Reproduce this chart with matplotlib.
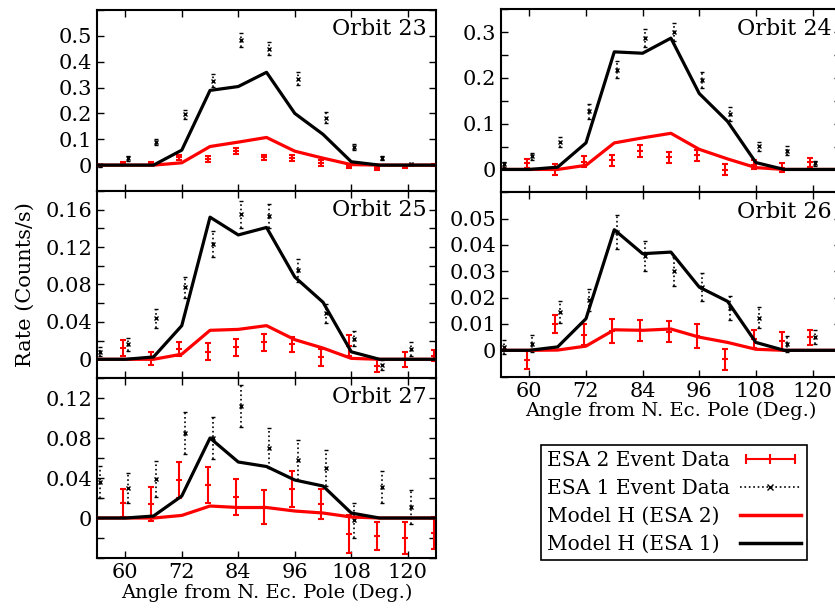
import numpy as np
import matplotlib
matplotlib.use("Agg")
import matplotlib.pyplot as plt
from matplotlib.ticker import MultipleLocator, FuncFormatter
from matplotlib.lines import Line2D
from matplotlib.legend_handler import HandlerLine2D

plt.rcParams["font.family"] = ["DejaVu Serif"]

# model bins (deg), data are shifted a little so the bars don't overlap
angles = np.array([54, 60, 66, 72, 78, 84, 90, 96, 102, 108, 114, 120, 126])
esa1_x = angles[:-1] + 0.6
esa2_x = angles[1:] - 0.5

# Orbit 23
o23_model1 = [0, 0, 0, 0.058, 0.289, 0.304, 0.359, 0.200, 0.119, 0.013, 0, 0, 0]
o23_model2 = [0, 0, 0, 0.009, 0.072, 0.089, 0.107, 0.054, 0.027, 0.002, 0, 0, 0]
o23_esa1 = [0.0, 0.026, 0.089, 0.197, 0.326, 0.484, 0.450, 0.334, 0.184, 0.069, 0.026, 0.004]
o23_esa1_err = [0.006, 0.01, 0.012, 0.018, 0.025, 0.026, 0.026, 0.025, 0.02, 0.012, 0.008, 0.005]
o23_esa2 = [0.007, 0.007, 0.03, 0.023, 0.054, 0.03, 0.027, 0.008, -0.005, -0.012, -0.005, 0.0]
o23_esa2_err = [0.006, 0.007, 0.01, 0.011, 0.012, 0.011, 0.011, 0.01, 0.008, 0.007, 0.006, 0.005]

# Orbit 24
o24_model1 = [0, 0, 0.005, 0.058, 0.257, 0.254, 0.287, 0.166, 0.105, 0.015, 0, 0, 0]
o24_model2 = [0, 0, 0, 0.009, 0.058, 0.069, 0.079, 0.044, 0.023, 0.004, 0, 0, 0]
o24_esa1 = [0.011, 0.029, 0.06, 0.127, 0.218, 0.287, 0.30, 0.196, 0.121, 0.051, 0.041, 0.013]
o24_esa1_err = [0.006, 0.008, 0.012, 0.016, 0.018, 0.02, 0.02, 0.017, 0.015, 0.01, 0.01, 0.006]
o24_esa2 = [0.013, 0.0, 0.017, 0.02, 0.041, 0.027, 0.031, -0.001, 0.01, 0.004, 0.016, 0.005]
o24_esa2_err = [0.01, 0.012, 0.012, 0.012, 0.013, 0.012, 0.012, 0.012, 0.01, 0.01, 0.01, 0.01]

# Orbit 25
o25_model1 = [0, 0, 0.0025, 0.036, 0.152, 0.133, 0.141, 0.088, 0.061, 0.008, 0, 0, 0]
o25_model2 = [0, 0, 0, 0.0055, 0.031, 0.032, 0.036, 0.021, 0.012, 0.001, 0, 0, 0]
o25_esa1 = [0.008, 0.016, 0.044, 0.077, 0.123, 0.155, 0.153, 0.095, 0.049, 0.022, -0.006, 0.011]
o25_esa1_err = [0.005, 0.007, 0.01, 0.011, 0.014, 0.0145, 0.013, 0.012, 0.01, 0.008, 0.005, 0.007]
o25_esa2 = [0.012, 0.001, 0.011, 0.008, 0.013, 0.018, 0.016, 0.002, 0.0145, -0.007, 0.0, 0.004]
o25_esa2_err = [0.009, 0.007, 0.007, 0.009, 0.009, 0.009, 0.008, 0.009, 0.011, 0.007, 0.008, 0.006]

# Orbit 26
o26_model1 = [0, 0, 0.0013, 0.012, 0.0458, 0.0367, 0.0373, 0.024, 0.0186, 0.003, 0, 0, 0]
o26_model2 = [0, 0, 0.0001, 0.0016, 0.0078, 0.0076, 0.0081, 0.005, 0.003, 0.0004, 0, 0, 0]
o26_esa1 = [0.0013, 0.0025, 0.0146, 0.019, 0.045, 0.036, 0.030, 0.024, 0.016, 0.0124, 0.0023, 0.005]
o26_esa1_err = [0.0027, 0.0033, 0.0041, 0.0042, 0.0065, 0.0057, 0.0054, 0.0054, 0.0046, 0.0041, 0.003, 0.0027]
o26_esa2 = [-0.0038, 0.010, 0.006, 0.0073, 0.0076, 0.007, 0.0054, -0.0034, 0.0044, 0.0035, 0.005, 0.0]
o26_esa2_err = [0.0034, 0.0035, 0.004, 0.0046, 0.004, 0.004, 0.0047, 0.004, 0.0035, 0.0035, 0.0029, 0.003]

# Orbit 27
o27_model1 = [0, 0, 0.002, 0.022, 0.080, 0.056, 0.0515, 0.038, 0.032, 0.005, 0, 0, 0]
o27_model2 = [0, 0, 0, 0.0026, 0.012, 0.0105, 0.0105, 0.007, 0.005, 0.001, 0, 0, 0]
o27_esa1 = [0.036, 0.030, 0.039, 0.085, 0.080, 0.112, 0.070, 0.058, 0.050, -0.002, 0.031, 0.011]
o27_esa1_err = [0.016, 0.015, 0.018, 0.021, 0.021, 0.021, 0.02, 0.02, 0.018, 0.0175, 0.016, 0.017]
o27_esa2 = [0.015, 0.014, 0.038, 0.033, 0.021, 0.0115, 0.0295, 0.014, -0.016, -0.018, -0.020, -0.015]
o27_esa2_err = [0.014, 0.017, 0.018, 0.018, 0.018, 0.017, 0.018, 0.015, 0.019, 0.014, 0.016, 0.016]

xticks = [60, 72, 84, 96, 108, 120]
legend_labels = ["ESA 2 Event Data", "ESA 1 Event Data", "Model H (ESA 2)", "Model H (ESA 1)"]
FS = 14


def fmt(v, pos):
    if abs(v) < 1e-9:
        return "0"
    return "%g" % round(v, 4)


def draw_orbit(ax, name, m1, m2, e1, e1err, e2, e2err, ylim, major, minor, ymax_label):
    ax.errorbar(esa2_x, e2, yerr=e2err, fmt="_", color="red", ms=4, mew=1.5,
                elinewidth=1.5, capsize=2.5, capthick=1.5, zorder=2)
    eb1 = ax.errorbar(esa1_x, e1, yerr=e1err, fmt="x", color="black", ms=3.5, mew=1,
                      elinewidth=1.2, capsize=1.5, capthick=1, zorder=2)
    eb1[2][0].set_linestyle(":")
    ax.plot(angles, m2, color="red", lw=2.3, zorder=3)
    ax.plot(angles, m1, color="black", lw=2.3, zorder=4)

    ax.set_xlim(54, 126)
    ax.set_ylim(*ylim)
    ax.set_xticks(xticks)
    ax.yaxis.set_major_locator(MultipleLocator(major))
    ax.yaxis.set_minor_locator(MultipleLocator(minor))
    ax.yaxis.set_major_formatter(FuncFormatter(
        lambda v, p: fmt(v, p) if -1e-9 < v <= ymax_label + 1e-9 else ""))
    ax.tick_params(direction="in", which="both", top=True, right=True,
                   labelsize=FS + 1, length=5, width=1)
    for s in ax.spines.values():
        s.set_linewidth(1.5)
    ax.text(0.972, 0.955, name, transform=ax.transAxes, ha="right", va="top",
            fontsize=FS + 2)


fig = plt.figure(figsize=(8.35, 6.09), dpi=100)

ax23 = fig.add_axes([0.1162, 0.6864, 0.406, 0.2972])
ax25 = fig.add_axes([0.1162, 0.3793, 0.406, 0.3071])
ax27 = fig.add_axes([0.1162, 0.0837, 0.406, 0.2956])
ax24 = fig.add_axes([0.600, 0.6842, 0.407, 0.3005])
ax26 = fig.add_axes([0.600, 0.3815, 0.407, 0.3027])

draw_orbit(ax23, "Orbit 23", o23_model1, o23_model2, o23_esa1, o23_esa1_err,
           o23_esa2, o23_esa2_err, (-0.1, 0.6), 0.1, 0.1, 0.5)
draw_orbit(ax25, "Orbit 25", o25_model1, o25_model2, o25_esa1, o25_esa1_err,
           o25_esa2, o25_esa2_err, (-0.02, 0.18), 0.04, 0.02, 0.16)
draw_orbit(ax27, "Orbit 27", o27_model1, o27_model2, o27_esa1, o27_esa1_err,
           o27_esa2, o27_esa2_err, (-0.04, 0.14), 0.04, 0.02, 0.12)
draw_orbit(ax24, "Orbit 24", o24_model1, o24_model2, o24_esa1, o24_esa1_err,
           o24_esa2, o24_esa2_err, (-0.05, 0.35), 0.1, 0.05, 0.3)
draw_orbit(ax26, "Orbit 26", o26_model1, o26_model2, o26_esa1, o26_esa1_err,
           o26_esa2, o26_esa2_err, (-0.01, 0.06), 0.01, 0.01, 0.05)

for ax in [ax23, ax25, ax24]:
    ax.tick_params(labelbottom=False)

ax27.set_xlabel("Angle from N. Ec. Pole (Deg.)", fontsize=FS, labelpad=1)
ax26.set_xlabel("Angle from N. Ec. Pole (Deg.)", fontsize=FS, labelpad=1)
ax25.set_ylabel("Rate (Counts/s)", fontsize=FS + 1, labelpad=8)

h_e2 = Line2D([], [], color="red", lw=1.5, marker="|", ms=7, mew=1.5)
h_e1 = Line2D([], [], color="black", lw=1.2, ls=":", marker="x", ms=4, mew=1)
h_m2 = Line2D([], [], color="red", lw=2.5)
h_m1 = Line2D([], [], color="black", lw=2.5)
leg = fig.legend([h_e2, h_e1, h_m2, h_m1], legend_labels,
                 handler_map={h_e2: HandlerLine2D(numpoints=3), h_e1: HandlerLine2D(numpoints=1)},
                 loc="upper left", bbox_to_anchor=(0.648, 0.2693), borderaxespad=0,
                 fontsize=FS + 0.5, fancybox=False, edgecolor="black", framealpha=1,
                 handlelength=3, handletextpad=0.5, labelspacing=0.45, borderpad=0.3,
                 markerfirst=False)
leg.get_frame().set_linewidth(1.2)

# text on the left, handles lined up in a column on the right
fig.canvas.draw()
renderer = fig.canvas.get_renderer()
widths = [t.get_window_extent(renderer).width for t in leg.get_texts()]
col = leg._legend_handle_box.get_children()[0]
col.align = "left"
for row, w in zip(col.get_children(), widths):
    row.sep += (max(widths) - w) * 72.0 / fig.dpi

fig.savefig("out.png", dpi=100)
